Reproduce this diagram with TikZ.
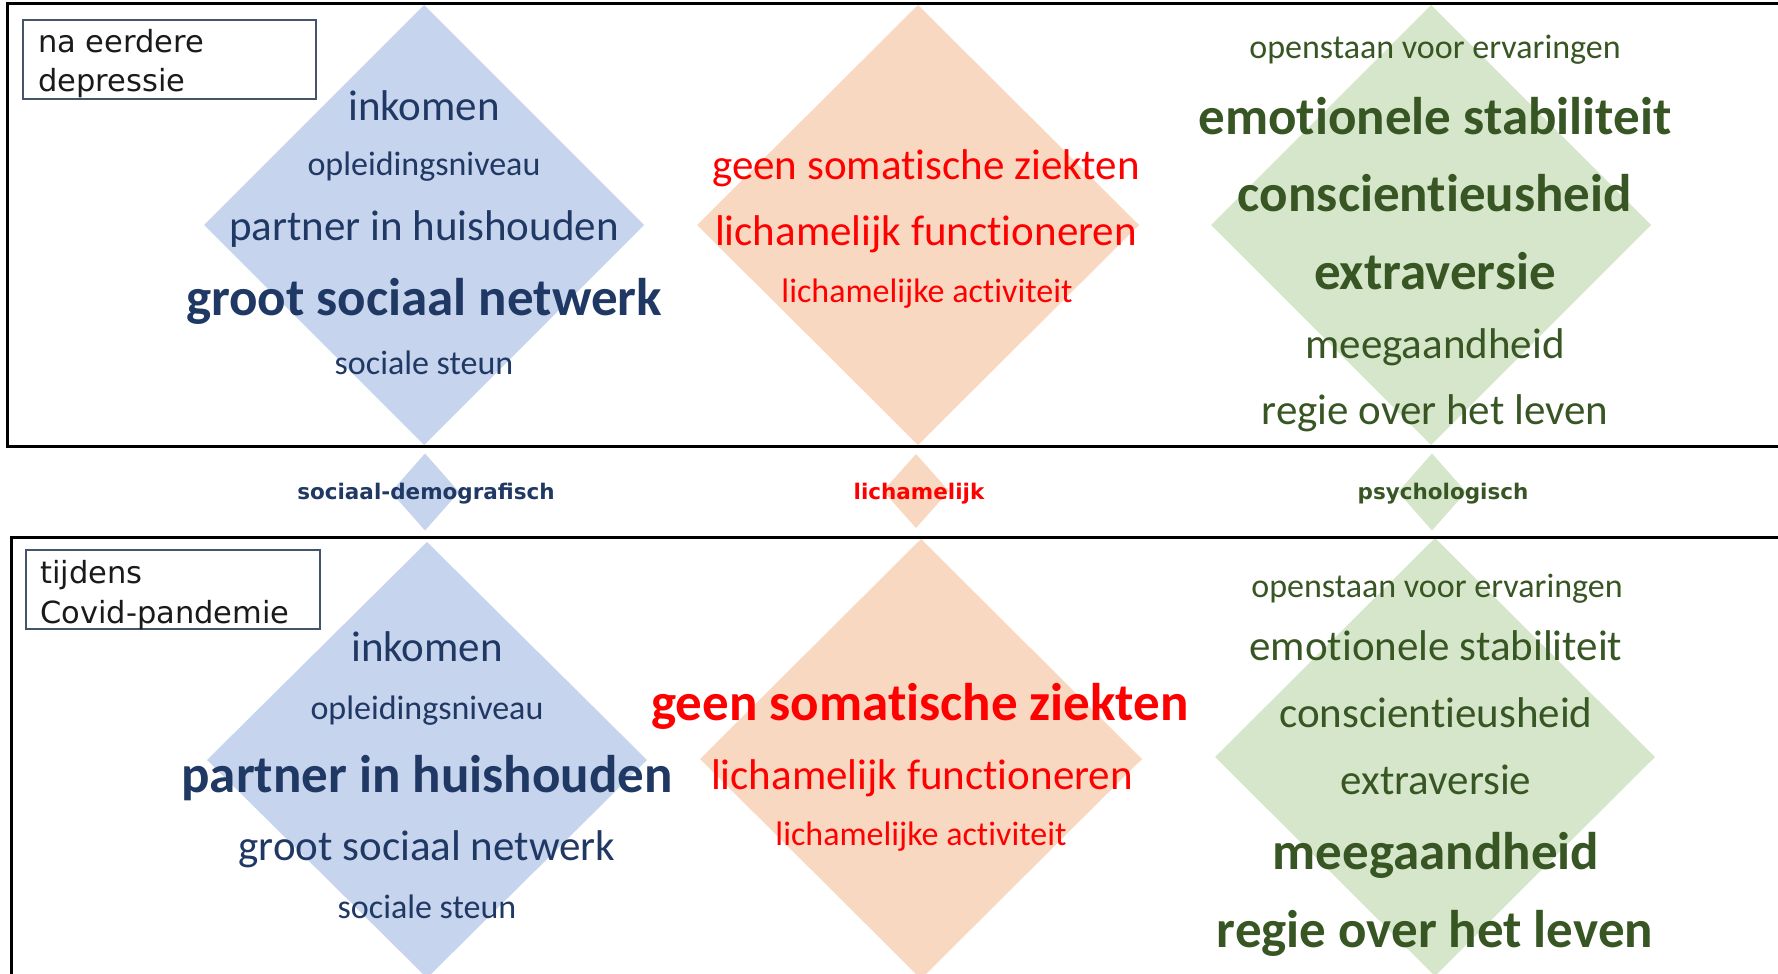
\documentclass[tikz,border=0pt]{standalone}
\usepackage{fontspec}
\setmainfont[Ligatures=NoCommon]{Carlito}
\newfontfamily\dejavu{DejaVu Sans}
\definecolor{navy}{HTML}{203864}
\definecolor{dgreen}{HTML}{375623}
\definecolor{lblue}{HTML}{C6D4ED}
\definecolor{lorange}{HTML}{F9D8C2}
\definecolor{lgreen}{HTML}{D6E6CA}
\definecolor{boxline}{HTML}{44546A}
\definecolor{labtext}{HTML}{1A1A1A}
\newcommand\mydiamond[5]{\fill[#1] (#2,#3-#5) -- (#2+#4,#3) -- (#2,#3+#5) -- (#2-#4,#3) -- cycle;}
\tikzset{
  sm/.style={anchor=base, inner sep=0pt, yshift=-2pt, font=\fontsize{34}{34}\selectfont},
  md/.style={anchor=base, inner sep=0pt, yshift=-2pt, font=\fontsize{43}{43}\selectfont},
  lg/.style={anchor=base, inner sep=0pt, yshift=-2pt, font=\fontsize{53}{53}\selectfont\bfseries},
  cat/.style={anchor=base, inner sep=0pt, font=\dejavu\bfseries\fontsize{21.5}{21.5}\selectfont},
  labtxt/.style={anchor=base west, inner sep=0pt, text=labtext, font=\dejavu\fontsize{30.5}{30.5}\selectfont},
  frame/.style={draw=black, line width=3pt},
  labbox/.style={draw=boxline, line width=2pt},
}
\begin{document}
\begin{tikzpicture}[x=1pt,y=-1pt]
\useasboundingbox (0,0) rectangle (1778,974);
\clip (0,0) rectangle (1778,974);
% diamonds top
\mydiamond{lblue}{424}{225}{220}{220}
\mydiamond{lorange}{918}{225}{221}{220}
\mydiamond{lgreen}{1431}{225}{220}{220}
% small diamonds
\mydiamond{lblue}{425}{492}{34}{38.5}
\mydiamond{lorange}{916}{491}{33}{37}
\mydiamond{lgreen}{1432}{492}{34}{38.5}
% diamonds bottom
\mydiamond{lblue}{427}{760}{220}{218}
\mydiamond{lorange}{921}{759}{221}{220}
\mydiamond{lgreen}{1435}{757}{220}{219}
% frames
\draw[frame] (1800,4) -- (7,4) -- (7,446) -- (1800,446);
\draw[frame] (1800,537) -- (11,537) -- (11,1000);
% label boxes
\draw[labbox] (23,20) rectangle (316,99);
\node[labtxt] (l1a) at (38,53) {na eerdere};
\node[labtxt] (l1b) at (38,92) {depressie};
\draw[labbox] (26,550) rectangle (320,629);
\node[labtxt] (l2a) at (40,583) {tijdens};
\node[labtxt] (l2b) at (40,623) {Covid-pandemie};
% top blue
\node[md,text=navy] (tb1) at (424,118) {inkomen};
\node[sm,text=navy] (tb2) at (424,173) {opleidingsniveau};
\node[md,text=navy] (tb3) at (424,238) {partner in huishouden};
\node[lg,text=navy] (tb4) at (424,313) {groot sociaal netwerk};
\node[sm,text=navy] (tb5) at (424,372) {sociale steun};
% top orange
\node[md,text=red] (to1) at (926,177) {geen somatische ziekten};
\node[md,text=red] (to2) at (926,243) {lichamelijk functioneren};
\node[sm,text=red] (to3) at (927,300) {lichamelijke activiteit};
% top green
\node[sm,text=dgreen] (tg1) at (1435,57) {openstaan voor ervaringen};
\node[lg,text=dgreen] (tg2) at (1435,132) {emotionele stabiliteit};
\node[lg,text=dgreen] (tg3) at (1435,209) {conscientieusheid};
\node[lg,text=dgreen] (tg4) at (1435,287) {extraversie};
\node[md,text=dgreen] (tg5) at (1435,356) {meegaandheid};
\node[md,text=dgreen] (tg6) at (1435,422) {regie over het leven};
% categories
\node[cat,text=navy] (c1) at (426,499) {sociaal-demografisch};
\node[cat,text=red] (c2) at (919,499) {lichamelijk};
\node[cat,text=dgreen] (c3) at (1443,499) {psychologisch};
% bottom blue
\node[md,text=navy] (bb1) at (427,659) {inkomen};
\node[sm,text=navy] (bb2) at (427,717) {opleidingsniveau};
\node[lg,text=navy] (bb3) at (427,790) {partner in huishouden};
\node[md,text=navy] (bb4) at (427,858) {groot sociaal netwerk};
\node[sm,text=navy] (bb5) at (427,916) {sociale steun};
% bottom orange
\node[lg,text=red] (bo1) at (920,718) {geen somatische ziekten};
\node[md,text=red] (bo2) at (922,787) {lichamelijk functioneren};
\node[sm,text=red] (bo3) at (921,843) {lichamelijke activiteit};
% bottom green
\node[sm,text=dgreen] (bg1) at (1437,595) {openstaan voor ervaringen};
\node[md,text=dgreen] (bg2) at (1436,658) {emotionele stabiliteit};
\node[md,text=dgreen] (bg3) at (1436,725) {conscientieusheid};
\node[md,text=dgreen] (bg4) at (1436,792) {extraversie};
\node[lg,text=dgreen] (bg5) at (1436,867) {meegaandheid};
\node[lg,text=dgreen] (bg6) at (1435,945) {regie over het leven};
\end{tikzpicture}
\end{document}
